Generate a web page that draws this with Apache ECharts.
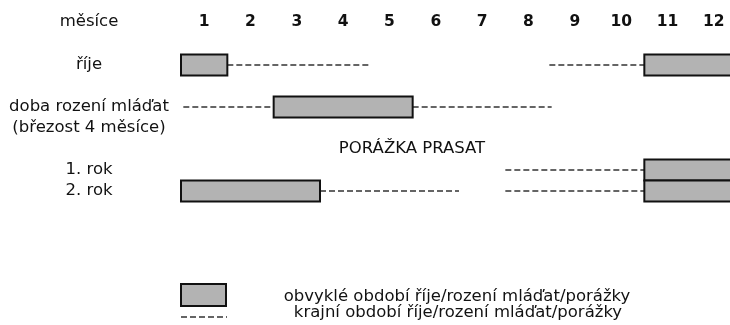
<!DOCTYPE html>
<html>
<head>
    <meta charset="utf-8">
    <title>ECharts</title>
    <script src="https://cdn.jsdelivr.net/npm/echarts@6.0.0/dist/echarts.min.js"></script>
</head>
<body style="margin:0px; padding:0px; background:#fff;">
    <div id="main" style="width:730px;height:325px;"></div>
    <script type="text/javascript">
    // months on the top axis
    var months = ['1', '2', '3', '4', '5', '6', '7', '8', '9', '10', '11', '12'];
    // row labels (empty slots keep the spacing)
    var rowLabels = ['říje', '', 'doba rození mláďat', '(březost 4 měsíce)', '', '1. rok', '2. rok'];
    // [row, from, to]  usual period (grey box)
    var usual = [[0, 0, 1], [0, 10, 12], [2, 2, 5], [5, 10, 12], [6, 0, 3], [6, 10, 12]];
    // [row, from, to]  extreme period (dashed)
    var extreme = [[0, 1, 4.05], [0, 7.95, 10], [2, 0.05, 2], [2, 5, 8], [5, 7, 10], [6, 3, 6], [6, 7, 10]];

    var font = 'DejaVu Sans';
    var textColor = '#111';
    var dashColor = '#333';
    var myChart = echarts.init(document.getElementById('main'));

    var option = {
        backgroundColor: '#fff',
        animation: false,
        grid: {
            left: 181,
            top: 54.5,
            width: 556,
            height: 147,
            outerBoundsMode: 'none',
            containLabel: false
        },
        xAxis: [{
            type: 'category',
            data: months,
            position: 'top',
            axisLine: { show: false },
            axisTick: { show: false },
            splitLine: { show: false },
            axisLabel: {
                interval: 0,
                hideOverlap: false,
                margin: 25,
                color: textColor,
                fontFamily: font,
                fontWeight: 'bold',
                fontSize: 15.5
            }
        }, {
            type: 'value',
            min: 0,
            max: 12,
            show: false
        }],
        yAxis: {
            type: 'category',
            data: rowLabels,
            inverse: true,
            axisLine: { show: false },
            axisTick: { show: false },
            splitLine: { show: false },
            axisLabel: {
                interval: 0,
                hideOverlap: false,
                align: 'center',
                margin: 92,
                color: textColor,
                fontFamily: font,
                fontSize: 16.5
            }
        },
        graphic: [
            { type: 'text', x: 89, y: 22, style: { text: 'měsíce', fill: textColor, font: '16.5px "DejaVu Sans"', textAlign: 'center', textVerticalAlign: 'middle' } },
            { type: 'text', x: 412, y: 149, style: { text: 'PORÁŽKA PRASAT', fill: textColor, font: '16.5px "DejaVu Sans"', textAlign: 'center', textVerticalAlign: 'middle' } },
            { type: 'rect', shape: { x: 181, y: 284, width: 45, height: 22 }, style: { fill: '#b3b3b3', stroke: '#111', lineWidth: 2 } },
            { type: 'line', shape: { x1: 181, y1: 317, x2: 227, y2: 317 }, style: { stroke: dashColor, lineWidth: 1.3, lineDash: [6, 3] } },
            { type: 'text', x: 457, y: 297, style: { text: 'obvyklé období říje/rození mláďat/porážky', fill: textColor, font: '16.5px "DejaVu Sans"', textAlign: 'center', textVerticalAlign: 'middle' } },
            { type: 'text', x: 458, y: 313, style: { text: 'krajní období říje/rození mláďat/porážky', fill: textColor, font: '16.5px "DejaVu Sans"', textAlign: 'center', textVerticalAlign: 'middle' } }
        ],
        series: [{
            type: 'custom',
            xAxisIndex: 1,
            yAxisIndex: 0,
            clip: false,
            encode: { x: [1, 2], y: 0 },
            data: extreme,
            renderItem: function (params, api) {
                var row = api.value(0);
                var p0 = api.coord([api.value(1), row]);
                var p1 = api.coord([api.value(2), row]);
                return {
                    type: 'line',
                    shape: { x1: p0[0], y1: p0[1], x2: p1[0], y2: p1[1] },
                    style: { stroke: dashColor, lineWidth: 1.3, lineDash: [6, 3] }
                };
            }
        }, {
            type: 'custom',
            xAxisIndex: 1,
            yAxisIndex: 0,
            clip: false,
            encode: { x: [1, 2], y: 0 },
            data: usual,
            renderItem: function (params, api) {
                var row = api.value(0);
                var p0 = api.coord([api.value(1), row]);
                var p1 = api.coord([api.value(2), row]);
                var h = api.size([0, 1])[1];
                return {
                    type: 'rect',
                    shape: { x: p0[0], y: p0[1] - h / 2, width: p1[0] - p0[0], height: h },
                    style: { fill: '#b3b3b3', stroke: '#111', lineWidth: 2 }
                };
            }
        }]
    };
    myChart.setOption(option);
    </script>
</body>
</html>
